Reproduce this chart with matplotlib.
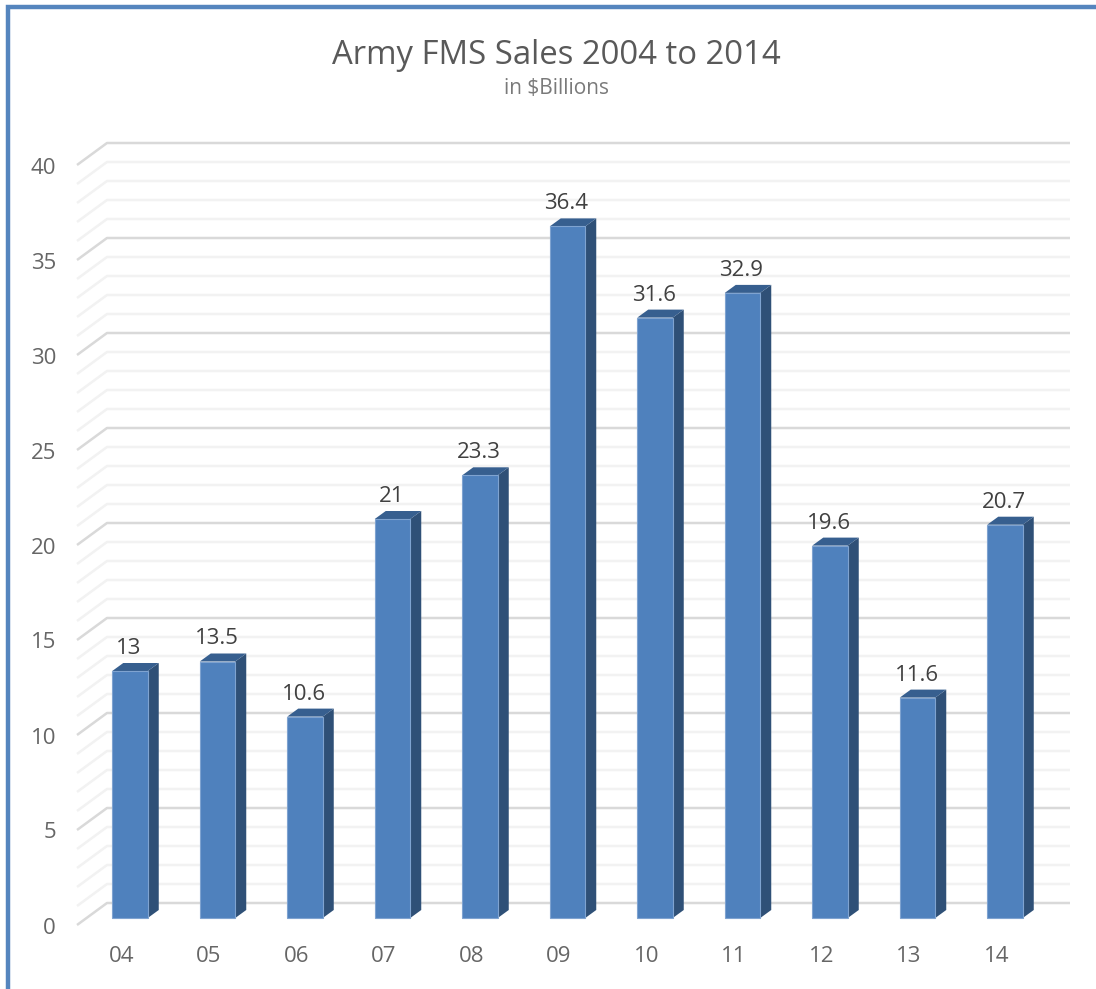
import matplotlib
matplotlib.use("Agg")
import matplotlib.pyplot as plt
from matplotlib.patches import Polygon
import numpy as np

years = ["04", "05", "06", "07", "08", "09", "10", "11", "12", "13", "14"]
sales = [13, 13.5, 10.6, 21, 23.3, 36.4, 31.6, 32.9, 19.6, 11.6, 20.7]
labels = ["13", "13.5", "10.6", "21", "23.3", "36.4", "31.6", "32.9", "19.6", "11.6", "20.7"]
major_ticks = [0, 5, 10, 15, 20, 25, 30, 35, 40]
minor_ticks = [t for t in range(0, 40) if t % 5 != 0]

plt.rcParams["font.family"] = ["Open Sans", "DejaVu Sans"]

W, H = 1096, 989
px_x = 87.5  # pixels per category
px_y = 19.0  # pixels per unit
x0, y0 = 130.0, 918.0  # pixel of category 0, value 0 on the bar front plane

fig = plt.figure(figsize=(W / 100, H / 100), dpi=100)
ax = fig.add_axes([0, 0, 1, 1])
ax.set_xlim((0 - x0) / px_x, (W - x0) / px_x)
ax.set_ylim((y0 - H) / px_y, y0 / px_y)
ax.axis("off")


def dx(p):
    return p / px_x


def dy(p):
    return p / px_y


# floor and wall lines, front edge -> back edge -> right end
left_front = dx(77 - x0)
left_back = dx(107 - x0)
right_back = dx(1070 - x0)
for t in minor_ticks + major_ticks:
    major = t in major_ticks
    ax.plot(
        [left_front, left_back, right_back],
        [t - dy(7), t + dy(15), t + dy(15)],
        color="#d9d9d9" if major else "#f2f2f2",
        lw=1.8,
        zorder=1,
        solid_capstyle="butt",
    )

# bars
x = np.arange(len(years))
bar_w = dx(35.5)
ddx, ddy = dx(11), dy(8)
ax.bar(x, sales, width=bar_w, color="#4f81bd", edgecolor="#7fa3d0", linewidth=0.8, zorder=3)
for xi, v in zip(x, sales):
    l, r = xi - bar_w / 2, xi + bar_w / 2
    ax.add_patch(Polygon([(r, 0), (r + ddx, ddy), (r + ddx, v + ddy), (r, v)],
                         closed=True, color="#2f5077", lw=0, zorder=2))
    ax.add_patch(Polygon([(l, v), (l + ddx, v + ddy), (r + ddx, v + ddy), (r, v)],
                         closed=True, color="#375f8f", lw=0, zorder=2))
    ax.text(xi - dx(1), v + dy(8) + dy(4), labels[xi], ha="center", va="bottom",
            fontsize=16, color="#404040", zorder=4)

# tick labels
for t in major_ticks:
    ax.text(dx(56 - x0), t - dy(10), str(t), ha="right", va="center", fontsize=16, color="#666666")
for xi, name in zip(x, years):
    ax.text(xi - dx(8.5), dy(-38), name, ha="center", va="center", fontsize=16, color="#666666")

# titles
ax.text(dx(556 - x0), dy(y0 - 55), "Army FMS Sales 2004 to 2014", ha="center", va="center",
        fontsize=23.7, color="#595959")
ax.text(dx(557 - x0), dy(y0 - 88), "in $Billions", ha="center", va="center",
        fontsize=15, color="#7a7a7a", parse_math=False)

# frame of the screenshot
ax.plot([dx(8 - x0), dx(8 - x0), dx(W - x0)], [dy(y0 - H), dy(y0 - 6.5), dy(y0 - 6.5)],
        color="#5585be", lw=3.2, zorder=5, solid_joinstyle="miter")

fig.savefig("out.png", dpi=100)
